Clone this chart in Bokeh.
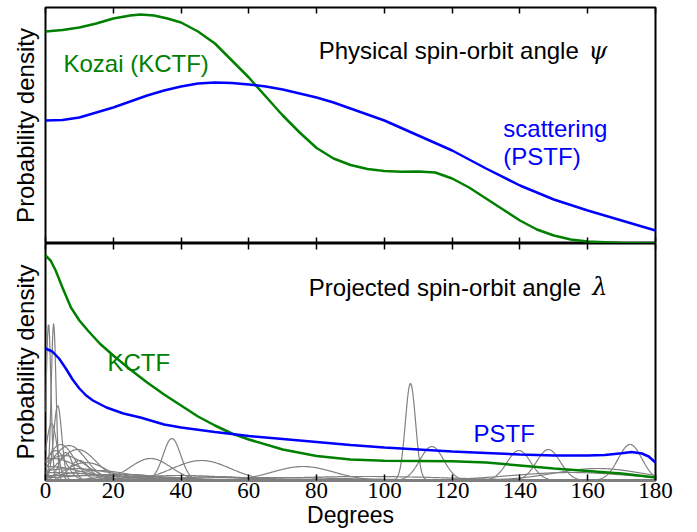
import numpy as np
from bokeh.plotting import figure
from bokeh.models import LinearAxis, FixedTicker, Range1d, Label
from bokeh.layouts import column
from bokeh.embed import file_html
from bokeh.resources import INLINE

# ---------------- data ----------------
x_ticks = [0, 20, 40, 60, 80, 100, 120, 140, 160, 180]

# physical spin-orbit angle psi
psi_kctf_deg = [0, 5, 10, 15, 20, 25, 28, 32, 36, 40, 45, 50, 55, 60, 65, 70, 75, 80,
                85, 90, 95, 100, 105, 110, 115, 120, 125, 130, 135, 140, 145, 150,
                155, 160, 170, 180]
psi_kctf = [2.12, 2.135, 2.16, 2.20, 2.25, 2.28, 2.29, 2.28, 2.25, 2.21, 2.12, 2.00,
            1.83, 1.66, 1.47, 1.28, 1.11, 0.955, 0.85, 0.785, 0.745, 0.725, 0.718,
            0.72, 0.71, 0.65, 0.56, 0.45, 0.34, 0.23, 0.14, 0.08, 0.04, 0.02, 0.005,
            0.0]

psi_pstf_deg = [0, 5, 10, 15, 20, 25, 30, 35, 40, 45, 50, 55, 60, 65, 70, 75, 80, 85,
                90, 95, 100, 110, 120, 130, 140, 150, 160, 170, 180]
psi_pstf = [1.23, 1.235, 1.26, 1.31, 1.36, 1.42, 1.48, 1.53, 1.57, 1.60, 1.61, 1.605,
            1.59, 1.57, 1.54, 1.50, 1.46, 1.41, 1.35, 1.29, 1.23, 1.08, 0.93, 0.75,
            0.58, 0.44, 0.33, 0.23, 0.13]

# projected spin-orbit angle lambda
lam_kctf_deg = [0, 1.5, 3, 5, 7.5, 10, 12.5, 16, 20, 25, 30, 35, 40, 45, 50, 55, 60,
                70, 80, 90, 100, 110, 120, 130, 140, 150, 160, 170, 180]
lam_kctf = [2.25, 2.20, 2.10, 1.93, 1.73, 1.60, 1.50, 1.37, 1.25, 1.11, 0.98, 0.86,
            0.75, 0.64, 0.55, 0.47, 0.41, 0.31, 0.245, 0.21, 0.197, 0.195, 0.192,
            0.18, 0.15, 0.12, 0.095, 0.07, 0.03]

lam_pstf_deg = [0, 2, 4, 6, 8, 10, 12, 14, 18, 23, 28, 35, 40, 50, 60, 70, 80, 90,
                100, 110, 120, 130, 140, 150, 160, 165, 170, 173, 176, 178, 180]
lam_pstf = [1.32, 1.29, 1.22, 1.12, 1.01, 0.92, 0.85, 0.80, 0.73, 0.67, 0.63, 0.56,
            0.53, 0.485, 0.445, 0.415, 0.385, 0.355, 0.33, 0.31, 0.29, 0.275, 0.26,
            0.25, 0.25, 0.255, 0.273, 0.285, 0.27, 0.24, 0.18]

# individual measured systems: lambda, uncertainty, peak density
obs_lambda = [0.9, 2.4, 3.6, 1.8, 4.5, 7.0, 9.5, 3.0, 5.5, 2.0, 1.0, 12.0, 37.3, 31.0,
              46.0, 76.0, 107.7, 114.0, 139.7, 148.4, 172.5, 163.0, 0.0, 20.0, 5.0,
              155.0, 60.0, 95.0, 15.0, 8.0, 25.0, 40.0, 50.0, 10.0, 6.0]
obs_sigma = [0.7, 0.7, 1.2, 1.6, 4.0, 5.0, 5.5, 3.0, 6.5, 8.0, 10.0, 6.0, 2.6, 6.0,
             8.5, 9.0, 1.5, 3.5, 3.5, 3.5, 3.5, 13.0, 20.0, 15.0, 25.0, 18.0, 30.0,
             25.0, 10.0, 12.0, 8.0, 15.0, 10.0, 3.0, 2.0]
obs_peak = [1.57, 1.57, 0.75, 0.57, 0.36, 0.35, 0.31, 0.30, 0.25, 0.22, 0.14, 0.18,
            0.42, 0.22, 0.20, 0.14, 0.97, 0.34, 0.30, 0.31, 0.36, 0.12, 0.08, 0.06,
            0.05, 0.08, 0.03, 0.04, 0.10, 0.12, 0.06, 0.05, 0.04, 0.20, 0.28]

# ---------------- style ----------------
GREEN = "#008000"
BLUE = "#0000ff"
GRAY = "#808080"
SANS = "Liberation Sans"
SERIF = "Liberation Serif"


def tick_axis(labels=False):
    ax = LinearAxis(ticker=FixedTicker(ticks=x_ticks, minor_ticks=[]))
    ax.axis_line_color = None
    ax.major_tick_in = 6
    ax.major_tick_out = 0
    ax.major_tick_line_width = 1.5
    ax.major_tick_line_color = "black"
    ax.minor_tick_line_color = None
    if labels:
        ax.major_label_text_font = SERIF
        ax.major_label_text_font_size = "23px"
        ax.major_label_text_color = "black"
        ax.major_label_standoff = 2
    else:
        ax.major_label_text_font_size = "0px"
        ax.major_label_text_color = None
        ax.major_label_standoff = 0
    return ax


def ylabel_axis():
    ax = LinearAxis(ticker=FixedTicker(ticks=[], minor_ticks=[]))
    ax.axis_line_color = None
    ax.major_tick_line_color = None
    ax.minor_tick_line_color = None
    ax.major_tick_out = 0
    ax.major_tick_in = 0
    ax.major_label_text_font_size = "0px"
    ax.major_label_text_color = None
    ax.major_label_standoff = 0
    ax.axis_label = "Probability density"
    ax.axis_label_text_font = SANS
    ax.axis_label_text_font_size = "24px"
    ax.axis_label_text_font_style = "normal"
    ax.axis_label_text_color = "black"
    ax.axis_label_standoff = 7
    return ax


def base(height, top, bottom, y_end):
    p = figure(width=697, height=height, x_range=Range1d(0, 180),
               y_range=Range1d(0, y_end), x_axis_location=None,
               y_axis_location=None, toolbar_location=None,
               output_backend="svg", min_border_left=45, min_border_right=42,
               min_border_top=top, min_border_bottom=bottom)
    p.outline_line_color = "black"
    p.outline_line_width = 2
    p.outline_line_alpha = 1
    p.background_fill_color = "white"
    p.border_fill_color = "white"
    p.grid.visible = False
    p.add_layout(ylabel_axis(), "left")
    return p


def label(p, x, y, text, color="black", font=SANS, style="normal", align="left"):
    p.add_layout(Label(x=x, y=y, text=text, text_color=color, text_font=font,
                       text_font_size="24px", text_font_style=style,
                       text_align=align, text_baseline="alphabetic"))


# ---------------- top panel ----------------
p1 = base(243, 7, 0, 2.36)
p1.add_layout(tick_axis(), "below")
p1.add_layout(tick_axis(), "above")
p1.line(psi_kctf_deg, psi_kctf, line_color=GREEN, line_width=2.5)
p1.line(psi_pstf_deg, psi_pstf, line_color=BLUE, line_width=2.5)
label(p1, 5.3, 1.80, "Kozai (KCTF)", GREEN)
label(p1, 80.6, 1.93, "Physical spin-orbit angle")
label(p1, 165.8, 1.93, "\u03c8", font="DejaVu Serif", style="italic", align="right")
label(p1, 135.1, 1.15, "scattering", BLUE)
label(p1, 135.1, 0.87, "(PSTF)", BLUE)

# ---------------- bottom panel ----------------
p2 = base(289, 0, 52, 2.37)
xb = tick_axis(labels=True)
xb.axis_label = "Degrees"
xb.axis_label_text_font = SANS
xb.axis_label_text_font_size = "23px"
xb.axis_label_text_font_style = "normal"
xb.axis_label_text_color = "black"
xb.axis_label_standoff = 1
p2.add_layout(xb, "below")
p2.add_layout(tick_axis(), "above")

grid = np.linspace(0, 180, 901)
xs, ys = [], []
for c, s, h in zip(obs_lambda, obs_sigma, obs_peak):
    xs.append(grid)
    ys.append(h * np.exp(-0.5 * ((grid - c) / s) ** 2))
p2.multi_line(xs=xs, ys=ys, line_color=GRAY, line_width=1.2)
p2.line(lam_kctf_deg, lam_kctf, line_color=GREEN, line_width=2.5)
p2.line(lam_pstf_deg, lam_pstf, line_color=BLUE, line_width=2.5)
label(p2, 77.7, 1.933, "Projected spin-orbit angle")
label(p2, 165.8, 1.933, "\u03bb", font="DejaVu Serif", style="italic", align="right")
label(p2, 18.3, 1.18, "KCTF", GREEN)
label(p2, 126.3, 0.47, "PSTF", BLUE)

layout = column(p1, p2, spacing=0)
open("out.html", "w").write(file_html(layout, INLINE))
